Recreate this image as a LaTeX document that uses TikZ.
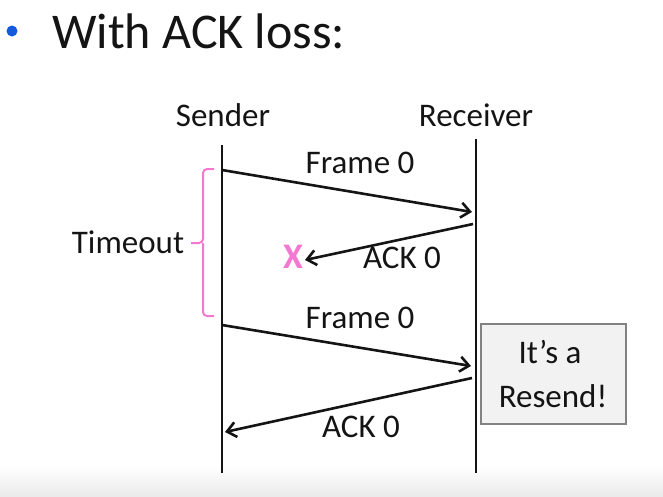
\documentclass[tikz,border=0pt]{standalone}
\usepackage{fontspec}
\setmainfont{Carlito}
\usetikzlibrary{arrows.meta}
\definecolor{ink}{RGB}{20,20,20}
\definecolor{pinkish}{RGB}{242,120,210}
\definecolor{bulletblue}{RGB}{20,90,220}
\definecolor{boxfill}{RGB}{242,242,242}
\definecolor{boxedge}{RGB}{130,130,130}
\tikzset{
  lbl/.style={font=\fontsize{33}{36}\selectfont, text=ink, inner sep=0pt},
  lifeline/.style={draw=ink, line width=2.2pt},
  msg/.style={draw=ink, line width=2.6pt, -{Straight Barb[length=9pt,width=15pt]}},
  brace/.style={draw=pinkish, line width=2pt, rounded corners=4pt},
  note/.style={draw=boxedge, line width=1.5pt, fill=boxfill, minimum width=145pt, minimum height=100pt, inner sep=0pt}
}
\begin{document}
\begin{tikzpicture}[x=1pt, y=-1pt]
\useasboundingbox (0,0) rectangle (663,496);
% faint grey band along the bottom edge
\shade[top color=white, bottom color=black!8, draw=none] (0,466) rectangle (663,496);

% heading with bullet
\fill[bulletblue] (12,31) circle (5.5pt);
\node[anchor=base west, font=\fontsize{50}{56}\selectfont, text=ink, inner sep=0pt] (title) at (52,48) {With ACK loss:};

% party names
\node[lbl, anchor=base] (sender) at (223,126) {Sender};
\node[lbl, anchor=base] (receiver) at (476,126) {Receiver};

% lifelines
\coordinate (stop) at (222,145);
\coordinate (sbot) at (222,473);
\coordinate (rtop) at (476,139);
\coordinate (rbot) at (476,473);
\draw[lifeline] (stop) -- (sbot);
\draw[lifeline] (rtop) -- (rbot);

% message end points
\coordinate (f1s) at (222,170);
\coordinate (f1r) at (472,212);
\coordinate (a1r) at (473,224);
\coordinate (a1x) at (305,260);
\coordinate (f2s) at (222,325);
\coordinate (f2r) at (471,366);
\coordinate (a2r) at (472,378);
\coordinate (a2s) at (225,432);

% first frame and its lost acknowledgement
\draw[msg] (f1s) -- (f1r);
\node[lbl, anchor=base] (f1lbl) at (360,173) {Frame 0};
\draw[msg] (a1r) -- (a1x);
\node[font=\bfseries\fontsize{36}{38}\selectfont, text=pinkish, inner sep=0pt] (lost) at (293,257) {X};
\node[lbl, anchor=base] (a1lbl) at (402,268) {ACK 0};

% timeout brace
\coordinate (btop) at (214,169);
\coordinate (bbot) at (214,316);
\coordinate (bmid) at (203,243);
\coordinate (btip) at (191,243);
\draw[brace] (btop) -| (bmid) -- (btip);
\draw[brace] (bbot) -| (bmid);
\node[lbl, anchor=base] (timeout) at (128,253) {Timeout};

% retransmission and its acknowledgement
\draw[msg] (f2s) -- (f2r);
\node[lbl, anchor=base] (f2lbl) at (360,328) {Frame 0};
\draw[msg] (a2r) -- (a2s);
\node[lbl, anchor=base] (a2lbl) at (361,437) {ACK 0};

% receiver's note
\node[note] (resend) at (553.5,374) {};
\node[lbl, anchor=base] (its) at (550,363) {It’s a};
\node[lbl, anchor=base] (resendtxt) at (553,407) {Resend!};
\end{tikzpicture}
\end{document}
